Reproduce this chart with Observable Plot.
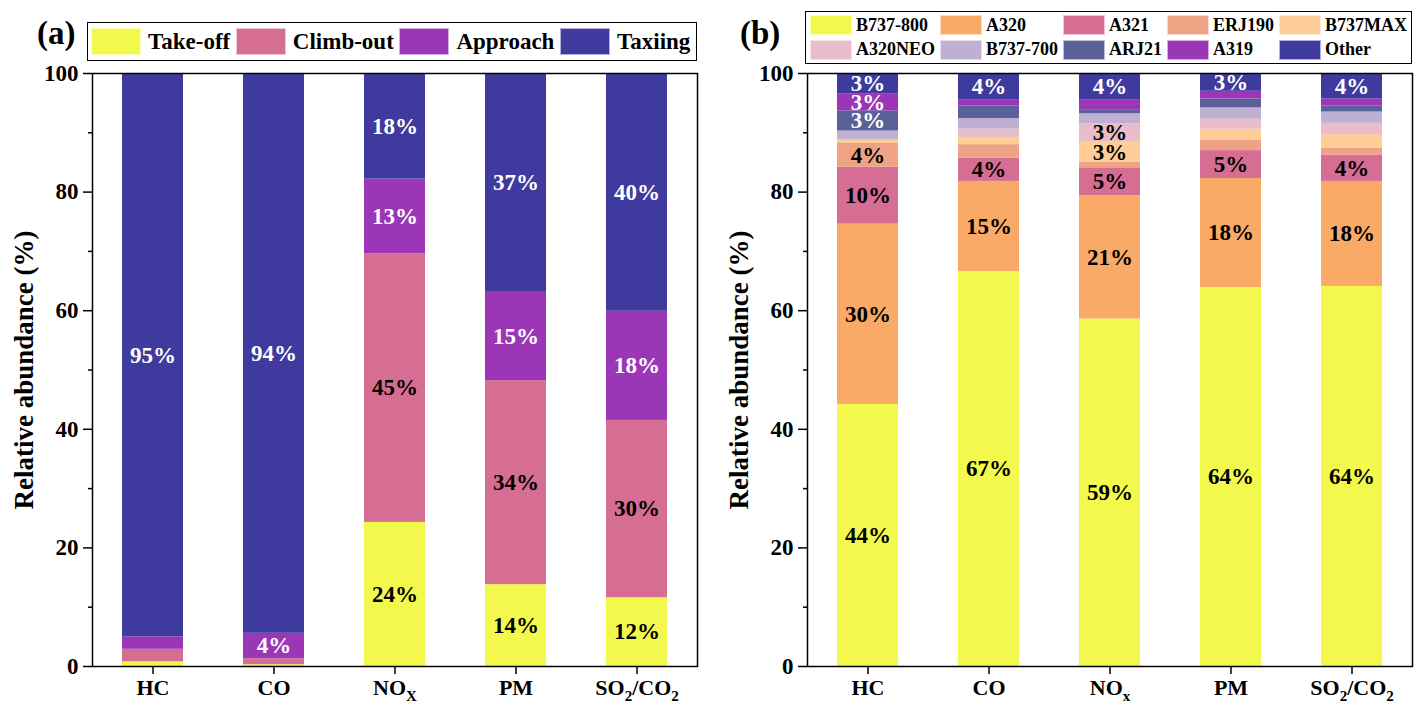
<!DOCTYPE html>
<html>
<head>
<meta charset="utf-8">
<script src="https://cdn.jsdelivr.net/npm/d3@7"></script>
<script src="https://cdn.jsdelivr.net/npm/@observablehq/plot@0.6"></script>
<style>
  body { margin: 0; background: #fff; }
  #root { position: relative; width: 1425px; height: 720px; overflow: hidden;
          font-family: "Liberation Serif", "Times New Roman", serif; font-weight: bold; color: #000; }
  #root svg, #root svg text, #root svg tspan { font-family: "Liberation Serif", "Times New Roman", serif !important; font-weight: bold !important; }
  .tag { position: absolute; font-size: 33px; font-weight: bold; line-height: 1; }
  .legend { position: absolute; border: 1.5px solid #000; box-sizing: border-box; display: grid; align-items: center; }
  .item { display: flex; align-items: center; white-space: nowrap; }
  .sw { display: inline-block; box-sizing: border-box; border: 1px solid rgba(255,255,255,0.6); }
  .panel { position: absolute; top: 50px; }
</style>
</head>
<body>
<div id="root">
  <div class="tag" style="left:37px; top:17px;">(a)</div>
  <div class="tag" style="left:740px; top:17px;">(b)</div>
  <div id="legA" class="legend"></div>
  <div id="legB" class="legend"></div>
  <div id="panelA" class="panel" style="left:0px;"></div>
  <div id="panelB" class="panel" style="left:715px;"></div>
</div>
<script>
// ---------- Panel (a): LTO phases ----------
const catsA = ["HC", "CO", "NO_X", "PM", "SO_2/CO_2"];
const phases = ["Take-off", "Climb-out", "Approach", "Taxiing"];
const phaseColors = ["#F3F84C", "#D66D93", "#9B36B7", "#3F3A9D"];
const takeoff  = [0.8, 0.3, 24.3, 13.8, 11.6];
const climbout = [2.1, 1.0, 45.3, 34.4, 29.9];
const approach = [2.1, 4.3, 12.6, 14.9, 18.4];
const taxiing  = [95.0, 94.4, 17.8, 36.9, 40.1];
const darkA = ["Approach", "Taxiing"];

// ---------- Panel (b): aircraft types ----------
const catsB = ["HC", "CO", "NO_x", "PM", "SO_2/CO_2"];
const aircraft = ["B737-800", "A320", "A321", "ERJ190", "B737MAX", "A320NEO", "B737-700", "ARJ21", "A319", "Other"];
const aircraftColors = ["#F3F84C", "#F8AA66", "#D66D93", "#EFA385", "#FFCD98", "#E8BDC9", "#BFB0D3", "#5A6199", "#9B36B7", "#3F3A9D"];
const b737_800 = [44.2, 66.6, 58.6, 63.9, 64.1];
const a320     = [30.4, 15.2, 20.8, 18.4, 17.7];
const a321     = [9.6, 3.9, 4.7, 4.7, 4.4];
const erj190   = [4.0, 2.3, 0.9, 1.7, 1.2];
const b737max  = [0.5, 1.2, 3.4, 1.9, 2.3];
const a320neo  = [0.2, 1.4, 3.1, 1.7, 1.9];
const b737_700 = [1.4, 1.8, 1.7, 1.9, 1.9];
const arj21    = [3.4, 2.1, 0.7, 1.5, 1.0];
const a319     = [2.9, 1.1, 1.7, 1.3, 1.2];
const other    = [3.4, 4.4, 4.4, 3.0, 4.3];
const darkB = ["ARJ21", "A319", "Other"];

const yTicks = [0, 20, 40, 60, 80, 100];
const yMinor = [10, 30, 50, 70, 90];
const labelMin = 2.9;

const FONT = '"Liberation Serif", "Times New Roman", serif';

function buildData(cats, series, valueRows) {
  const data = [];
  series.forEach((s, i) => cats.forEach((c, j) => data.push({cat: c, series: s, value: valueRows[i][j]})));
  return data;
}

function subscriptify(svg) {
  d3.select(svg).selectAll('g[aria-label="x-axis tick label"] text').each(function () {
    const t = this.textContent;
    if (!t.includes("_")) return;
    const sel = d3.select(this);
    sel.text("");
    let low = false;
    t.split(/(_.)/).forEach(part => {
      if (!part) return;
      if (part[0] === "_") {
        sel.append("tspan").attr("font-size", "15px").attr("dy", "6px").text(part.slice(1));
        low = true;
      } else {
        const ts = sel.append("tspan").text(part);
        if (low) { ts.attr("dy", "-6px"); low = false; }
      }
    });
  });
}

function makePanel(cats, series, colors, valueRows, dark) {
  const data = buildData(cats, series, valueRows);
  const darkSet = new Set(dark);
  const lbl = d => d.value >= labelMin ? Math.round(d.value) + "%" : "";
  const svg = Plot.plot({
    width: 710, height: 670,
    marginLeft: 92, marginRight: 13, marginTop: 23, marginBottom: 54,
    style: {fontFamily: FONT, fontWeight: "bold", fontSize: "22px", background: "transparent", color: "#000"},
    x: {domain: cats, paddingInner: 0.5, paddingOuter: 0.25, axis: null},
    y: {domain: [0, 100], axis: null},
    color: {domain: series, range: colors},
    marks: [
      Plot.barY(data, Plot.stackY({x: "cat", y: "value", fill: "series"})),
      Plot.text(data, Plot.stackY({x: "cat", y: "value", z: "series",
        text: d => darkSet.has(d.series) ? lbl(d) : "", fill: "white", fontSize: 23, fontWeight: "bold"})),
      Plot.text(data, Plot.stackY({x: "cat", y: "value", z: "series",
        text: d => darkSet.has(d.series) ? "" : lbl(d), fill: "black", fontSize: 23, fontWeight: "bold"})),
      Plot.frame({stroke: "#000", strokeWidth: 1.5}),
      Plot.axisY({ticks: yTicks, tickSize: 9, tickPadding: 5, fontSize: 23, strokeWidth: 1.5, tickFormat: d => String(d), label: null}),
      Plot.axisY({ticks: [], label: "Relative abundance (%)", labelAnchor: "center", labelOffset: 79, labelArrow: "none", fontSize: 27}),
      Plot.axisY({ticks: yMinor, tickSize: 4, tickFormat: () => "", strokeWidth: 1.5, label: null}),
      Plot.axisX({tickSize: 8, tickPadding: 5, fontSize: 22, strokeWidth: 1.5, label: null})
    ]
  });
  subscriptify(svg);
  return svg;
}

function makeLegend(el, series, colors, opts) {
  el.style.left = opts.left + "px";
  el.style.top = opts.top + "px";
  el.style.width = opts.width + "px";
  el.style.height = opts.height + "px";
  el.style.gridTemplateColumns = `repeat(${opts.cols}, auto)`;
  el.style.columnGap = opts.colGap + "px";
  el.style.padding = opts.pad;
  el.style.fontSize = opts.fontSize + "px";
  series.forEach((s, i) => {
    const it = document.createElement("div");
    it.className = "item";
    const sw = document.createElement("span");
    sw.className = "sw";
    sw.style.width = opts.swW + "px";
    sw.style.height = opts.swH + "px";
    sw.style.background = colors[i];
    sw.style.marginRight = opts.swGap + "px";
    it.appendChild(sw);
    const tx = document.createElement("span");
    tx.textContent = s;
    it.appendChild(tx);
    el.appendChild(it);
  });
}

makeLegend(document.getElementById("legA"), phases, phaseColors,
  {left: 87, top: 22, width: 610, height: 39, cols: 4, colGap: 4, pad: "0 4px 0 3px", fontSize: 23, swW: 50, swH: 27, swGap: 7});
makeLegend(document.getElementById("legB"), aircraft, aircraftColors,
  {left: 805, top: 11, width: 607, height: 53, cols: 5, colGap: 4, pad: "1px 3px 1px 4px", fontSize: 18, swW: 42, swH: 20, swGap: 4});

document.getElementById("panelA").appendChild(
  makePanel(catsA, phases, phaseColors, [takeoff, climbout, approach, taxiing], darkA));
document.getElementById("panelB").appendChild(
  makePanel(catsB, aircraft, aircraftColors, [b737_800, a320, a321, erj190, b737max, a320neo, b737_700, arj21, a319, other], darkB));
</script>
</body>
</html>
